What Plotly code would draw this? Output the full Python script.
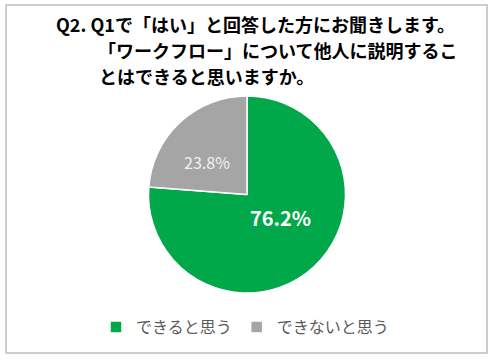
import plotly.graph_objects as go

categories = ["できると思う", "できないと思う"]
values = [76.2, 23.8]
colors = ["#00A84A", "#A5A5A5"]
title_lines = [
    "Q2. Q1で「はい」と回答した方にお聞きします。",
    "「ワークフロー」について他人に説明するこ",
    "とはできると思いますか。",
]

W, H = 494, 360
FONT = "Noto Sans CJK JP"
NB = "\u00a0"

fig = go.Figure()
fig.add_trace(go.Pie(
    labels=categories,
    values=values,
    sort=False,
    direction="clockwise",
    rotation=0,
    marker=dict(colors=colors, line=dict(color="white", width=1.5)),
    texttemplate=["%{value:.1f}%<br>" + NB, NB + "<br>%{value:.1f}%"],
    textposition="inside",
    insidetextorientation="horizontal",
    insidetextfont=dict(family=FONT, size=[20, 16], color=["white", "#F2F2F2"],
                        weight=["bold", "normal"]),
    hoverinfo="label+percent",
    domain=dict(x=[(247 - 98.5) / W, (247 + 98.5) / W],
                y=[1 - 293 / H, 1 - 96 / H]),
))

title_pos = [(54, 24), (96, 50), (97, 76)]
for line, (px, py) in zip(title_lines, title_pos):
    fig.add_annotation(
        text=line, x=px / W, y=1 - py / H, xref="paper", yref="paper",
        xanchor="left", yanchor="middle", showarrow=False,
        font=dict(family=FONT, size=18, color="black", weight="bold"),
    )

fig.add_shape(type="rect", xref="paper", yref="paper",
              x0=6 / W, x1=487 / W, y0=1 - 353 / H, y1=1 - 5 / H,
              line=dict(color="#BFBFBF", width=1.5), fillcolor="rgba(0,0,0,0)")

fig.update_layout(
    width=W, height=H,
    margin=dict(l=0, r=0, t=0, b=0),
    paper_bgcolor="white",
    plot_bgcolor="white",
    showlegend=True,
    legend=dict(orientation="h", x=245 / W, xanchor="center", y=1 - 327 / H, yanchor="middle",
                font=dict(family=FONT, size=16, color="#595959"),
                itemwidth=30, traceorder="normal"),
    font=dict(family=FONT),
)

fig.write_html("out.html", config={"displayModeBar": False},
               post_script="document.body.style.margin='0';")
